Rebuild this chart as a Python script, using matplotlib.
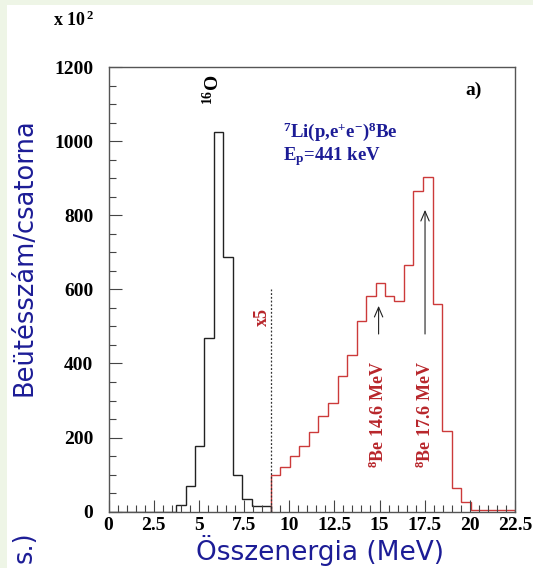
import matplotlib
matplotlib.use("Agg")
import matplotlib.pyplot as plt
from matplotlib.ticker import MultipleLocator

plt.rcParams['mathtext.fontset'] = 'custom'
plt.rcParams['mathtext.rm'] = 'Liberation Serif:bold'
plt.rcParams['mathtext.it'] = 'Liberation Serif:bold'
plt.rcParams['mathtext.bf'] = 'Liberation Serif:bold'

# 16O peak (black), counts per channel (x 10^2)
black_edges = [0, 3.73, 4.27, 4.78, 5.29, 5.83, 6.36, 6.88, 7.41, 7.94, 8.98]
black_counts = [0, 18, 70, 178, 468, 1025, 688, 99, 33, 15]

# 8Be region (red, scaled x5)
red_edges = [8.98, 9.51, 10.03, 10.54, 11.08, 11.61, 12.14, 12.68, 13.19, 13.73,
             14.27, 14.78, 15.31, 15.83, 16.36, 16.88, 17.41, 17.94, 18.48, 18.99,
             19.53, 20.04, 22.5]
red_counts = [99, 121, 150, 177, 215, 258, 294, 366, 423, 515, 583, 616, 583, 568,
              665, 865, 902, 560, 218, 63, 27, 5]

# arrows: (energy, start, end)
arrows = [(14.95, 472, 563), (17.52, 472, 822)]

serif = 'Liberation Serif'
navy = '#1c1c96'
red_line = '#cc3a3a'
red_text = '#b8262b'
border = '#eef5e6'

fig = plt.figure(figsize=(5.33, 5.68), dpi=100, facecolor='white')
# light green border on the left and top
fig.patches.append(plt.Rectangle((0, 0), 7 / 533, 1, transform=fig.transFigure,
                                 facecolor=border, edgecolor='none', zorder=-10))
fig.patches.append(plt.Rectangle((0, 1 - 5 / 568), 1, 5 / 568, transform=fig.transFigure,
                                 facecolor=border, edgecolor='none', zorder=-10))

ax = fig.add_axes([108.5 / 533, 56.3 / 568, 406.5 / 533, 444.7 / 568])
ax.set_facecolor('white')

ax.stairs(black_counts, black_edges, color='#222222', lw=1.0)
ax.stairs(red_counts, red_edges, color=red_line, lw=1.0)
ax.plot([8.98, 8.98], [0, 600], color='#333333', lw=0.9, linestyle=(0, (1.5, 1.5)))

for xa, y0, y1 in arrows:
    ax.annotate('', xy=(xa, y1), xytext=(xa, y0),
                arrowprops=dict(arrowstyle='->,head_length=0.7,head_width=0.3',
                                color='#222222', lw=0.8))

ax.set_xlim(0, 22.5)
ax.set_ylim(0, 1200)
ax.xaxis.set_minor_locator(MultipleLocator(0.5))
ax.yaxis.set_major_locator(MultipleLocator(200))
ax.yaxis.set_minor_locator(MultipleLocator(50))
ax.set_xticks([0, 2.5, 5, 7.5, 10, 12.5, 15, 17.5, 20, 22.5])
ax.set_xticklabels(['0', '2.5', '5', '7.5', '10', '12.5', '15', '17.5', '20', '22.5'])
ax.tick_params(which='both', direction='in', top=False, right=False, color='#444444')
ax.tick_params(which='major', length=9, width=0.8)
ax.tick_params(which='minor', length=5, width=0.8)
ax.tick_params(axis='y', pad=11)
ax.tick_params(axis='x', pad=4)
for lab in ax.get_xticklabels() + ax.get_yticklabels():
    lab.set_fontfamily(serif)
    lab.set_fontweight('bold')
    lab.set_fontsize(14)
for sp in ax.spines.values():
    sp.set_color('#555555')
    sp.set_linewidth(1.0)

ax.text(5.78, 1139, r'$^{16}$O', rotation=90, ha='center', va='center',
        fontfamily=serif, fontweight='bold', fontsize=14, color='black')
ax.text(20.2, 1137, 'a)', ha='center', va='center',
        fontfamily=serif, fontweight='bold', fontsize=14, color='black')
ax.text(9.65, 1024, r'$^{7}$Li(p,e$^{+}$e$^{-}$)$^{8}$Be', ha='left', va='center',
        fontfamily=serif, fontweight='bold', fontsize=13.5, color=navy)
ax.text(9.65, 958, r'E$_{\rm p}$=441 keV', ha='left', va='center',
        fontfamily=serif, fontweight='bold', fontsize=13.5, color=navy)
ax.text(8.54, 525, 'x5', rotation=90, ha='center', va='center',
        fontfamily=serif, fontweight='bold', fontsize=13, color=red_text)
ax.text(14.95, 118, r'$^{8}$Be 14.6 MeV', rotation=90, ha='center', va='bottom',
        fontfamily=serif, fontweight='bold', fontsize=13, color=red_text)
ax.text(17.52, 118, r'$^{8}$Be 17.6 MeV', rotation=90, ha='center', va='bottom',
        fontfamily=serif, fontweight='bold', fontsize=13, color=red_text)

fig.text(53 / 533, 1 - 20 / 568, r'x 10$^{\,2}$', ha='left', va='center',
         fontfamily=serif, fontweight='bold', fontsize=13, color='black')
fig.text(25 / 533, 1 - 257 / 568, 'Beütésszám/csatorna', rotation=90, ha='center', va='center',
         fontfamily='DejaVu Sans', fontsize=18.5, color=navy)
fig.text(25 / 533, 1 - 531 / 568, 's.)', rotation=90, ha='center', va='top',
         fontfamily='DejaVu Sans', fontsize=18.5, color=navy)
fig.text(320 / 533, 1 - 550 / 568, 'Összenergia (MeV)', ha='center', va='center',
         fontfamily='DejaVu Sans', fontsize=19, color=navy)

fig.savefig('out.png', dpi=100)
